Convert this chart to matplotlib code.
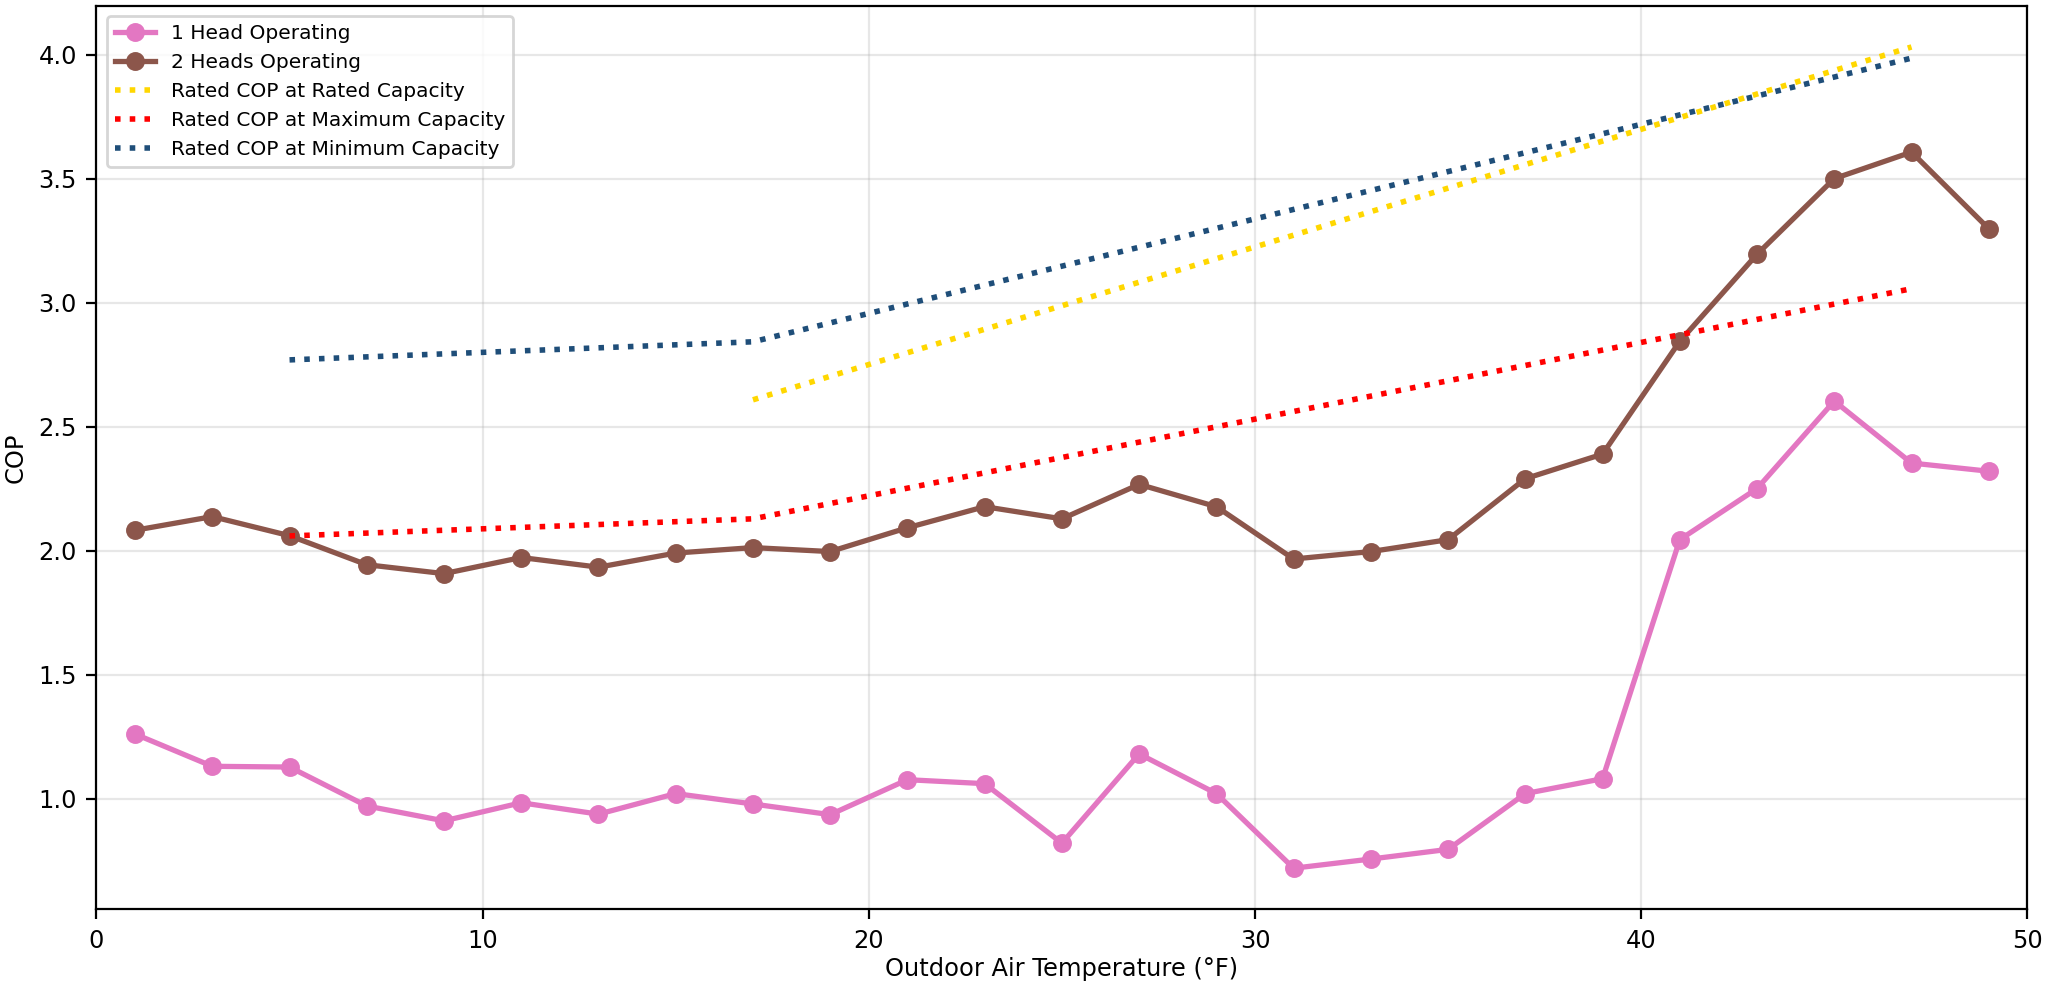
import numpy as np
import matplotlib
matplotlib.use("Agg")
import matplotlib.pyplot as plt

# outdoor temperatures (F) for the measured points
temps = [1, 3, 5, 7, 9, 11, 13, 15, 17, 19, 21, 23, 25, 27, 29, 31, 33, 35, 37, 39, 41, 43, 45, 47, 49]

cop_1head = [1.26, 1.13, 1.127, 0.97, 0.91, 0.983, 0.937, 1.02, 0.978, 0.935, 1.076, 1.06, 0.82, 1.18, 1.02,
             0.719, 0.756, 0.795, 1.02, 1.08, 2.044, 2.25, 2.603, 2.353, 2.32]
cop_2heads = [2.082, 2.137, 2.06, 1.943, 1.907, 1.972, 1.933, 1.99, 2.012, 1.996, 2.092, 2.177, 2.128, 2.267, 2.177,
              1.966, 1.996, 2.044, 2.29, 2.389, 2.844, 3.195, 3.50, 3.607, 3.298]

# rated performance points
rated_t = [17, 47]
rated_cop = [2.608, 4.031]
max_t = [5, 17, 47]
max_cop = [2.059, 2.128, 3.056]
min_t = [5, 17, 47]
min_cop = [2.769, 2.842, 3.986]

plt.rcParams["font.size"] = 8.7

fig = plt.figure(figsize=(10.26, 4.915), dpi=200)
ax = fig.add_subplot(1, 1, 1)
fig.subplots_adjust(left=0.047, right=0.988, top=0.994, bottom=0.075)

ax.plot(temps, cop_1head, marker="o", color="#e377c2", linewidth=1.9, markersize=5.8, label="1 Head Operating")
ax.plot(temps, cop_2heads, marker="o", color="#8c564b", linewidth=1.9, markersize=5.8, label="2 Heads Operating")
ax.plot(rated_t, rated_cop, linestyle=":", color="gold", linewidth=2, label="Rated COP at Rated Capacity")
ax.plot(max_t, max_cop, linestyle=":", color="red", linewidth=2, label="Rated COP at Maximum Capacity")
ax.plot(min_t, min_cop, linestyle=":", color="#1f4e79", linewidth=2, label="Rated COP at Minimum Capacity")

ax.set_xlim(0, 50)
ax.set_xlabel("Outdoor Air Temperature (°F)", labelpad=1.5)
ax.set_ylabel("COP")
ax.grid(True, alpha=0.3)
ax.legend(loc="upper left", fontsize="small")

fig.savefig("out.png", dpi=200)
